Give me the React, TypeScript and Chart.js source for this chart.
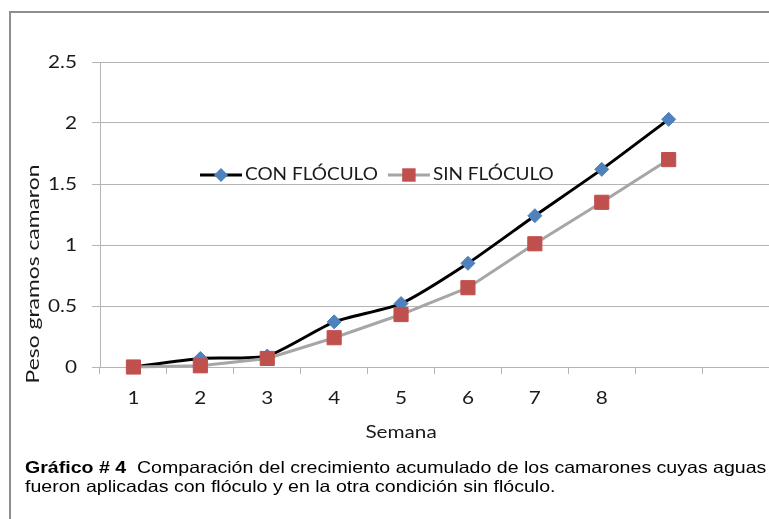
import React, { useEffect, useLayoutEffect, useRef } from "react";
import { Chart, registerables } from "chart.js";

Chart.register(...registerables);

// ---- data ----
const semanas = ["1", "2", "3", "4", "5", "6", "7", "8", "", ""];
const conFloculo = [0, 0.07, 0.09, 0.37, 0.52, 0.85, 1.24, 1.62, 2.03];
const sinFloculo = [0, 0.01, 0.07, 0.24, 0.43, 0.65, 1.01, 1.35, 1.7];
const seriesNames = ["CON FLÓCULO", "SIN FLÓCULO"];
const yTicks = [0, 0.5, 1, 1.5, 2, 2.5];
const yTitle = "Peso gramos camaron";
const xTitle = "Semana";
const captionBold = "Gráfico # 4";
const captionRest = "  Comparación del crecimiento acumulado de los camarones cuyas aguas";
const captionLine2 = "fueron aplicadas con flóculo y en la otra condición sin flóculo.";

// ---- styles ----
const FONT = "Lato, 'Open Sans', sans-serif";
const TEXT = "#1a1a1a";
const GRID = "#b4b4b4";
const SX = 1.15;

type TextOpt = { size: number; sx: number; align: CanvasTextAlign; rotate?: boolean };

function drawText(ctx: CanvasRenderingContext2D, text: string, x: number, y: number, o: TextOpt) {
  ctx.save();
  ctx.translate(x, y);
  if (o.rotate) ctx.rotate(-Math.PI / 2);
  ctx.scale(o.sx, 1);
  ctx.font = `${o.size}px ${FONT}`;
  ctx.fillStyle = TEXT;
  ctx.textAlign = o.align;
  ctx.textBaseline = "middle";
  ctx.fillText(text, 0, 0);
  ctx.restore();
}

function drawMarker(ctx: CanvasRenderingContext2D, style: string, x: number, y: number, r: number, color: string) {
  ctx.save();
  ctx.fillStyle = color;
  ctx.beginPath();
  if (style === "rectRot") {
    ctx.moveTo(x - r, y);
    ctx.lineTo(x, y - r);
    ctx.lineTo(x + r, y);
    ctx.lineTo(x, y + r);
  } else {
    const s = Math.SQRT1_2 * r;
    ctx.rect(x - s, y - s, 2 * s, 2 * s);
  }
  ctx.closePath();
  ctx.fill();
  ctx.restore();
}

const overlayPlugin = {
  id: "overlay",
  afterDraw(chart: any) {
    const ctx: CanvasRenderingContext2D = chart.ctx;
    const ca = chart.chartArea;
    const xs = chart.scales.x;
    const ys = chart.scales.y;

    // tick labels
    ys.ticks.forEach((t: any) => {
      drawText(ctx, String(t.value), ca.left - 23, ys.getPixelForValue(t.value), { size: 18, sx: SX, align: "right" });
    });
    semanas.forEach((lab, i) => {
      if (!lab) return;
      drawText(ctx, xs.getLabelForValue(i), xs.getPixelForValue(i), ca.bottom + 31, { size: 18, sx: SX, align: "center" });
    });
    // axis titles
    drawText(ctx, xTitle, xs.getPixelForValue(4), ca.bottom + 65, { size: 18, sx: SX, align: "center" });
    drawText(ctx, yTitle, ca.left - 66.5, ca.bottom - 93, { size: 18, sx: 1.27, align: "center", rotate: true });

    // legend inside plot
    const order = [0, 1];
    let lx = ca.left + 100;
    const ly = ca.top + 113;
    order.forEach((di) => {
      const ds = chart.data.datasets[di];
      ctx.save();
      ctx.strokeStyle = ds.borderColor;
      ctx.lineWidth = ds.borderWidth;
      ctx.beginPath();
      ctx.moveTo(lx, ly);
      ctx.lineTo(lx + 42, ly);
      ctx.stroke();
      ctx.restore();
      drawMarker(ctx, ds.pointStyle, lx + 21, ly, ds.pointStyle === "rect" ? 9.5 : 7, ds.pointBackgroundColor);
      drawText(ctx, ds.label, lx + 45, ly, { size: 16.5, sx: SX, align: "left" });
      ctx.save();
      ctx.font = `16.5px ${FONT}`;
      const w = ctx.measureText(ds.label).width * SX;
      ctx.restore();
      lx = lx + 45 + w + 10;
    });
  },
};

export default function App() {
  const canvasRef = useRef<HTMLCanvasElement>(null);
  const line1Ref = useRef<HTMLDivElement>(null);
  const line2Ref = useRef<HTMLDivElement>(null);

  useEffect(() => {
    if (!canvasRef.current) return;
    const chart = new Chart(canvasRef.current, {
      type: "line",
      data: {
        labels: semanas,
        datasets: [
          {
            label: seriesNames[0],
            data: conFloculo,
            borderColor: "#000000",
            borderWidth: 3,
            pointStyle: "rectRot",
            pointRadius: 7,
            pointBackgroundColor: "#4F81BD",
            pointBorderColor: "#4F81BD",
            pointBorderWidth: 1,
            tension: 0.2,
            order: 1,
            clip: false,
          } as any,
          {
            label: seriesNames[1],
            data: sinFloculo,
            borderColor: "#A6A6A6",
            borderWidth: 3,
            pointStyle: "rect",
            pointRadius: 10,
            pointBackgroundColor: "#C0504D",
            pointBorderColor: "#C0504D",
            pointBorderWidth: 1,
            tension: 0,
            order: 0,
            clip: false,
          } as any,
        ],
      },
      options: {
        responsive: false,
        animation: false,
        events: [],
        layout: { autoPadding: false, padding: { top: 62, left: 0, right: 0, bottom: 92 } },
        plugins: { legend: { display: false }, tooltip: { enabled: false }, title: { display: false } },
        scales: {
          x: {
            type: "category",
            offset: true,
            grid: { offset: true, drawOnChartArea: false, drawTicks: true, tickLength: 7, color: GRID },
            border: { color: GRID, width: 1 },
            ticks: { display: false, autoSkip: false },
            afterFit: (s: any) => {
              s.height = 60;
              s.paddingLeft = 0;
              s.paddingRight = 0;
            },
          },
          y: {
            min: 0,
            max: 2.5,
            afterBuildTicks: (s: any) => {
              s.ticks = yTicks.map((v) => ({ value: v }));
            },
            ticks: { display: false },
            grid: { color: GRID, tickLength: 8, drawTicks: true },
            border: { color: GRID, width: 1 },
            afterFit: (s: any) => {
              s.width = 100;
              s.paddingTop = 0;
              s.paddingBottom = 0;
            },
          },
        },
      },
      plugins: [overlayPlugin],
    });
    return () => chart.destroy();
  }, []);

  useLayoutEffect(() => {
    const fit = (el: HTMLDivElement | null, target: number) => {
      if (!el) return;
      const w = el.scrollWidth;
      if (w > 0) el.style.transform = `scaleX(${target / w})`;
    };
    fit(line1Ref.current, 742);
    fit(line2Ref.current, 531);
  }, []);

  const capStyle: React.CSSProperties = {
    position: "absolute",
    left: 25,
    fontFamily: "'Liberation Sans', Arial, sans-serif",
    fontSize: 16.5,
    lineHeight: "18px",
    color: "#000",
    whiteSpace: "pre",
    transformOrigin: "0 0",
  };

  return (
    <div style={{ position: "fixed", left: 0, top: 0, width: 769, height: 519, background: "#fff", overflow: "hidden" }}>
      <div
        style={{
          position: "absolute",
          left: 9,
          top: 11,
          width: 900,
          height: 700,
          border: "2px solid #8e8e8e",
          boxSizing: "border-box",
        }}
      />
      <canvas ref={canvasRef} width={769} height={519} style={{ position: "absolute", left: 0, top: 0 }} />
      <div ref={line1Ref} style={{ ...capStyle, top: 458 }}>
        <b>{captionBold}</b>
        {captionRest}
      </div>
      <div ref={line2Ref} style={{ ...capStyle, top: 477 }}>
        {captionLine2}
      </div>
    </div>
  );
}
